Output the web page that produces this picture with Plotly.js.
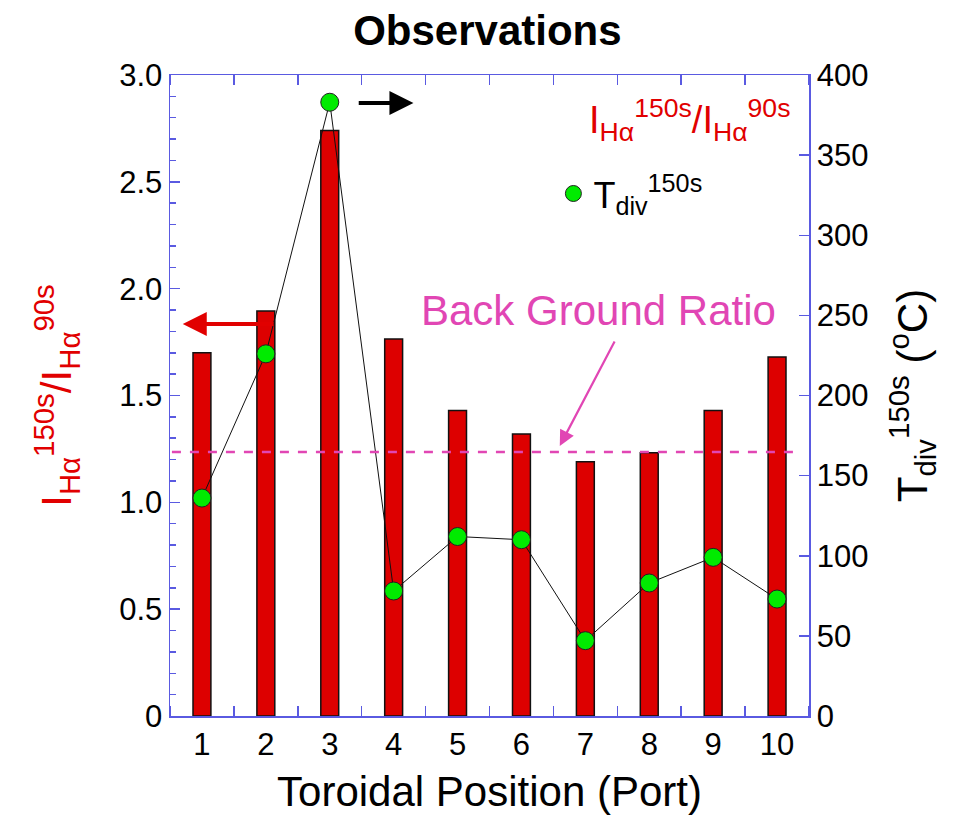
<!DOCTYPE html>
<html>
<head>
<meta charset="utf-8">
<script src="https://cdn.plot.ly/plotly-3.0.1.min.js"></script>
<style>html,body{margin:0;padding:0;background:#fff;}#chart{width:969px;height:825px;}</style>
</head>
<body>
<div id="chart"></div>
<script>
// Data
const ports = [1, 2, 3, 4, 5, 6, 7, 8, 9, 10];
const intensityRatio = [1.70, 1.895, 2.74, 1.765, 1.43, 1.32, 1.19, 1.232, 1.43, 1.68];
const tempDiv = [136, 226, 383, 78, 112, 110, 47, 83, 99, 73];
const xTickLabels = ['1', '2', '3', '4', '5', '6', '7', '8', '9', '10'];
const yTickVals = [0, 0.5, 1.0, 1.5, 2.0, 2.5, 3.0];
const yTickLabels = ['0', '0.5', '1.0', '1.5', '2.0', '2.5', '3.0'];
const y2TickVals = [0, 50, 100, 150, 200, 250, 300, 350, 400];
const y2TickLabels = ['0', '50', '100', '150', '200', '250', '300', '350', '400'];
const backgroundRatio = 1.235;

const FONT = 'Arial, "Liberation Sans", sans-serif';
const AXBLUE = 'rgb(90,90,225)';
const MAGENTA = 'rgb(225,70,180)';
const GREEN = 'rgb(0,235,0)';

const bars = {
  type: 'bar', x: ports, y: intensityRatio, width: 0.28,
  marker: {color: 'rgb(221,0,0)', line: {color: '#111', width: 1.5}},
  showlegend: false, hoverinfo: 'skip'
};
const temps = {
  type: 'scatter', mode: 'lines+markers', x: ports, y: tempDiv, yaxis: 'y2',
  line: {color: '#111', width: 1},
  marker: {color: GREEN, size: 18, line: {color: '#222', width: 1}},
  showlegend: false
};
// legend-only entry (marker symbol without line, as in the reference legend)
const tempsLegend = {
  type: 'scatter', mode: 'markers', x: [null], y: [null], yaxis: 'y2',
  name: 'T<sub>div</sub><sup>150s</sup>',
  marker: {color: GREEN, size: 18, line: {color: '#222', width: 1}},
  showlegend: true
};

const layout = {
  width: 969, height: 825,
  margin: {l: 170, r: 160, t: 75, b: 109},
  paper_bgcolor: '#fff', plot_bgcolor: '#fff',
  font: {family: FONT, color: '#000', size: 31},
  title: {text: '<b>Observations</b>', font: {family: FONT, size: 42, color: '#000'}, x: 0.503, xanchor: 'center', y: 0.963, yanchor: 'middle'},
  bargap: 0,
  xaxis: {
    range: [0.5, 10.5], tickvals: ports, ticktext: xTickLabels, ticks: '', ticklen: 0,
    showline: true, linecolor: AXBLUE, linewidth: 1.5, mirror: 'ticks', showgrid: false, zeroline: false,
    minor: {tick0: 0.5, dtick: 1, ticks: 'inside', ticklen: 10, tickcolor: AXBLUE, tickwidth: 1.5, showgrid: false},
    tickfont: {size: 31, family: FONT},
    title: {text: 'Toroidal Position (Port)', font: {size: 42, family: FONT}, standoff: 16}
  },
  yaxis: {
    range: [0, 3.0], tickvals: yTickVals, ticktext: yTickLabels, ticks: 'inside', ticklen: 10, tickwidth: 1.5, tickcolor: AXBLUE,
    showline: true, linecolor: AXBLUE, linewidth: 1.5, showgrid: false, zeroline: false,
    tickfont: {size: 31, family: FONT},
    minor: {dtick: 0.1, ticks: 'inside', ticklen: 6, tickcolor: AXBLUE, tickwidth: 1.5, showgrid: false},
    title: {text: 'I<sub>Hα</sub><sup>150s</sup>/I<sub>Hα</sub><sup>90s</sup>', font: {size: 42, color: 'rgb(225,0,0)', family: FONT}, standoff: 34}
  },
  yaxis2: {
    overlaying: 'y', side: 'right', range: [0, 400], tickvals: y2TickVals, ticktext: y2TickLabels,
    ticks: 'inside', ticklen: 10, tickwidth: 1.5, tickcolor: AXBLUE,
    showline: true, linecolor: AXBLUE, linewidth: 1.5, showgrid: false, zeroline: false,
    tickfont: {size: 31, family: FONT},
    title: {text: 'T<sub>div</sub><sup>150s</sup> (<sup>o</sup>C)', font: {size: 42, family: FONT, color: '#000'}, standoff: 30}
  },
  legend: {x: 0.6, y: 0.815, xanchor: 'left', yanchor: 'middle', bgcolor: 'rgba(0,0,0,0)', font: {size: 36, family: FONT}, itemwidth: 30},
  shapes: [
    {type: 'line', xref: 'x', yref: 'y', x0: 0.53, x1: 10.3, y0: backgroundRatio, y1: backgroundRatio,
     line: {color: MAGENTA, width: 2.5, dash: 'dash'}}
  ],
  annotations: [
    {xref: 'x', yref: 'y', x: 7.21, y: 1.90, text: 'Back Ground Ratio', showarrow: false,
     font: {size: 42, color: MAGENTA, family: FONT}},
    {xref: 'x', yref: 'y', axref: 'x', ayref: 'y', x: 6.6, y: 1.264, ax: 7.47, ay: 1.76, text: '',
     showarrow: true, arrowhead: 2, arrowsize: 1.4, arrowwidth: 2.2, arrowcolor: MAGENTA},
    {xref: 'x', yref: 'y', axref: 'x', ayref: 'y', x: 4.31, y: 2.869, ax: 3.43, ay: 2.869, text: '',
     showarrow: true, arrowhead: 2, arrowsize: 1.2, arrowwidth: 4, arrowcolor: '#000'},
    {xref: 'x', yref: 'y', axref: 'x', ayref: 'y', x: 0.70, y: 1.835, ax: 2.146, ay: 1.835, text: '',
     showarrow: true, arrowhead: 2, arrowsize: 1.2, arrowwidth: 4, arrowcolor: 'rgb(225,0,0)'},
    {xref: 'x', yref: 'y', x: 10.24, y: 2.79, xanchor: 'right', yanchor: 'middle', showarrow: false,
     text: 'I<sub>Hα</sub><sup>150s</sup>/I<sub>Hα</sub><sup>90s</sup>', font: {size: 38, color: 'rgb(225,0,0)', family: FONT}}
  ]
};

Plotly.newPlot('chart', [bars, temps, tempsLegend], layout, {displayModeBar: false, staticPlot: true});
</script>
</body>
</html>
